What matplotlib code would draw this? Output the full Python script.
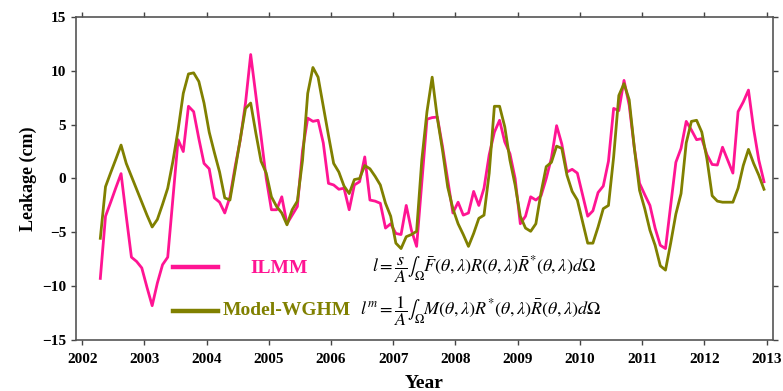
import numpy as np
import matplotlib
matplotlib.use("Agg")
import matplotlib.pyplot as plt

plt.rcParams['font.family'] = ['Liberation Serif', 'DejaVu Serif']
plt.rcParams['mathtext.fontset'] = 'stix'

# monthly series, April 2002 .. December 2012
start_year = 2002
start_month = 4

ilmm = [-9.27, -3.5, -2.2, -0.85, 0.45, -3.5, -7.3, -7.7, -8.3, -10.1,
        -11.8, -9.7, -8.0, -7.3, -1.8, 3.6, 2.5, 6.7, 6.2, 3.7,
        1.4, 0.9, -1.8, -2.2, -3.2, -1.7, 1.1, 3.6, 7.0, 11.5,
        7.7, 3.9, 0.0, -2.9, -2.9, -1.7, -4.2, -3.4, -2.6, 2.6,
        5.6, 5.3, 5.4, 3.3, -0.45, -0.6, -1.0, -0.9, -2.9, -0.6,
        -0.3, 2.0, -2.0, -2.1, -2.3, -4.6, -4.2, -5.1, -5.2, -2.5,
        -4.8, -6.3, -0.4, 5.5, 5.65, 5.7, 2.95, -0.1, -3.2, -2.2,
        -3.4, -3.2, -1.2, -2.5, -0.9, 2.2, 4.3, 5.4, 3.4, 2.3,
        0.0, -4.2, -3.5, -1.7, -2.0, -1.6, 0.0, 1.9, 4.9, 3.2,
        0.6, 0.85, 0.5, -1.5, -3.5, -3.0, -1.3, -0.7, 1.6, 6.5,
        6.3, 9.1, 6.8, 2.8, -0.45, -1.5, -2.5, -4.6, -6.2, -6.5,
        -2.5, 1.5, 2.8, 5.3, 4.5, 3.6, 3.7, 2.2, 1.3, 1.25,
        2.9, 1.7, 0.5, 6.2, 7.1, 8.2, 4.6, 1.7, -0.3]

wghm = [-5.55, -0.76, 0.54, 1.8, 3.1, 1.4, 0.2, -1.0, -2.2, -3.4,
        -4.5, -3.8, -2.4, -0.9, 1.6, 4.5, 7.9, 9.7, 9.8, 9.0,
        7.0, 4.3, 2.4, 0.6, -1.8, -2.0, 0.8, 3.7, 6.5, 7.0,
        4.2, 1.6, 0.5, -1.7, -2.6, -3.2, -4.3, -2.9, -2.1, 1.7,
        7.9, 10.3, 9.4, 6.7, 4.0, 1.4, 0.6, -0.7, -1.4, -0.1,
        0.0, 1.2, 0.9, 0.2, -0.6, -2.3, -3.5, -6.0, -6.5, -5.4,
        -5.2, -4.9, 1.7, 6.2, 9.4, 5.6, 2.6, -0.8, -2.8, -4.2,
        -5.2, -6.3, -5.1, -3.7, -3.4, 0.5, 6.7, 6.7, 4.8, 1.7,
        -0.6, -3.5, -4.6, -4.9, -4.2, -1.3, 1.1, 1.5, 3.0, 2.8,
        0.3, -1.2, -2.0, -4.0, -6.0, -6.0, -4.5, -2.8, -2.5, 2.0,
        7.7, 8.8, 7.3, 2.8, -1.1, -2.8, -4.8, -6.2, -8.1, -8.5,
        -6.0, -3.3, -1.4, 3.3, 5.3, 5.4, 4.3, 1.8, -1.6, -2.1,
        -2.2, -2.2, -2.2, -0.9, 1.2, 2.7, 1.4, 0.3, -1.0]

year_ticks = list(range(2002, 2014))
leak_ticks = [-15, -10, -5, 0, 5, 10, 15]

pink = '#ff1493'
olive = '#808000'

months = np.arange(len(ilmm))
t = start_year + (start_month - 1 + 0.5 + months) / 12.0

fig = plt.figure(figsize=(7.83, 3.91), dpi=100)
ax = fig.add_axes([0.097, 0.130, 0.890, 0.827])

ax.plot(t, ilmm, color=pink, lw=2.0)
ax.plot(t, wghm, color=olive, lw=2.0)

ax.set_xlim(2001.9, 2013.1)
ax.set_ylim(-15, 15)
ax.set_xticks(year_ticks)
ax.set_yticks(leak_ticks)
ax.set_yticklabels([f"{v}".replace('-', '\u2212') for v in leak_ticks])
ax.tick_params(direction='out', length=3.5, width=1, color='#444444',
               top=True, right=True, labelsize=11)
ax.tick_params(axis='x', pad=6)
for lab in ax.get_xticklabels() + ax.get_yticklabels():
    lab.set_fontweight('bold')
for s in ax.spines.values():
    s.set_color('#555555')
    s.set_linewidth(1.2)

ax.set_xlabel('Year', fontsize=14, fontweight='bold', labelpad=6)
ax.set_ylabel('Leakage (cm)', fontsize=13, fontweight='bold', labelpad=4)

# legend drawn by hand (centred coloured labels)
ax.plot([0.139, 0.204], [0.227, 0.227], color=pink, lw=3.2, transform=ax.transAxes)
ax.plot([0.139, 0.204], [0.091, 0.091], color=olive, lw=3.2, transform=ax.transAxes)
ax.text(0.291, 0.223, 'ILMM', color=pink, fontsize=14, fontweight='bold',
        ha='center', va='center', transform=ax.transAxes)
ax.text(0.302, 0.093, 'Model-WGHM', color=olive, fontsize=14, fontweight='bold',
        ha='center', va='center', transform=ax.transAxes)

f1 = (r'$l=\dfrac{s}{A}\int_{\Omega}\bar{F}(\theta,\lambda)R(\theta,\lambda)'
      r'\bar{R}^{*}(\theta,\lambda)d\Omega$')
f2 = (r'$l^{m}=\dfrac{1}{A}\int_{\Omega}M(\theta,\lambda)R^{*}(\theta,\lambda)'
      r'\bar{R}(\theta,\lambda)d\Omega$')
ax.text(0.425, 0.215, f1, fontsize=13, ha='left', va='center', transform=ax.transAxes)
ax.text(0.407, 0.090, f2, fontsize=13, ha='left', va='center', transform=ax.transAxes)

fig.savefig('out.png', dpi=100)
